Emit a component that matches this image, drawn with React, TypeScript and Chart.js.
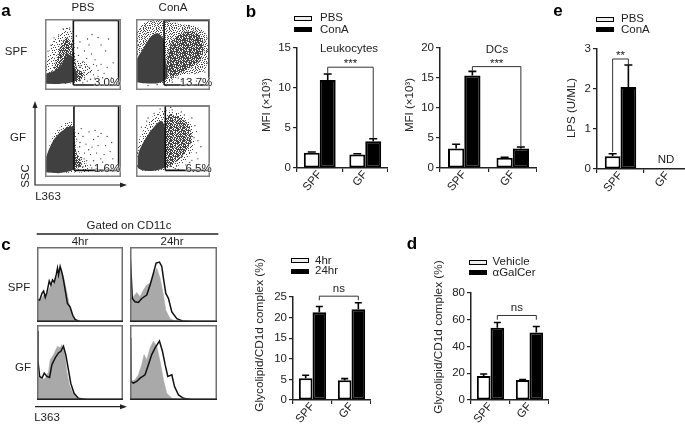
import React, { useEffect, useRef } from "react";
import { Chart, registerables } from "chart.js";

Chart.register(...registerables);

const FONT = '"Liberation Sans", Arial, sans-serif';
const INK = "#222";

/* ---------- bar panels ---------- */
const groups = ["SPF", "GF"];
const leuPBS = [1.9, 1.7];
const leuPBSErr = [2, 1.78];
const leuConA = [11, 3.35];
const leuConAErr = [11.75, 3.65];
const dcPBS = [3.25, 1.7];
const dcPBSErr = [3.95, 1.8];
const dcConA = [15.4, 3.25];
const dcConAErr = [16.1, 3.5];
const lpsPBS = [0.32, 0];
const lpsPBSErr = [0.38, 0];
const lpsConA = [2.05, 0];
const lpsConAErr = [2.6, 0];
const cd1d4hr = [5.3, 4.8];
const cd1d4hrErr = [6, 5.2];
const cd1d24hr = [21.3, 22];
const cd1d24hrErr = [22.7, 23.6];
const galVehicle = [18, 15];
const galVehicleErr = [19.4, 15.3];
const galAgonist = [54, 50.5];
const galAgonistErr = [58, 55];

/* ---------- flow panels (L363, SSC channel readings) ---------- */
type P = [number, number];
const spfPbsHalo: P[] = [[1,23],[1,49],[11,116],[26,161],[51,191],[71,213],[91,196],[98,151],[104,101],[136,91],[158,66],[138,46],[106,26],[36,19]];
const spfPbsMid: P[] = [[30,70],[45,130],[68,175],[88,160],[98,110],[108,70],[130,55],[110,30],[60,30]];
const spfPbsCore: P[] = [[1,21],[1,52],[26,62],[51,80],[62,100],[78,118],[93,110],[97,78],[108,50],[96,28],[36,20]];
const spfPbsDots: P[] = [[156,186],[176,176],[146,151],[116,161],[131,131],[111,116],[166,101],[186,86],[201,131],[211,171],[226,91],[221,41],[196,56],[176,46],[161,51],[146,76],[126,96],[116,81],[138,106],[154,121],[108,141],[104,181],[186,151],[141,171],[171,81],[206,76],[191,41],[151,36],[131,36],[116,31],[176,66],[161,86],[150,60],[165,40],[140,30],[125,24],[60,205],[45,185],[20,150],[10,130],[30,175],[82,208]];
const spfConAHalo: P[] = [[1,26],[1,186],[23,221],[53,233],[93,233],[143,221],[203,211],[235,181],[238,101],[222,62],[150,50],[103,23]];
const spfConAMid: P[] = [[98,70],[113,150],[150,190],[195,195],[222,165],[215,105],[165,66],[118,40]];
const spfConACore: P[] = [[3,26],[3,100],[25,140],[50,180],[72,190],[93,165],[98,105],[103,41],[73,23],[23,23]];
const spfConADots: P[] = [[15,205],[30,215],[60,228],[80,226],[110,230],[130,224],[160,205],[190,205],[215,195],[228,165],[233,130],[235,90],[228,60],[215,40],[200,30],[225,25],[180,35],[150,30],[120,26],[100,15],[70,18],[40,15],[8,150],[175,212],[205,175],[140,40],[195,55],[230,120],[50,230],[100,228]];
const gfPbsHalo: P[] = [[2,16],[2,54],[26,134],[61,174],[86,184],[98,164],[111,84],[138,44],[151,19],[76,14]];
const gfPbsMid: P[] = [[60,155],[85,172],[97,150],[103,85],[122,42],[102,24]];
const gfPbsCore: P[] = [[2,16],[2,58],[26,118],[56,152],[91,166],[97,104],[96,27],[46,12]];
const gfPbsDots: P[] = [[111,144],[126,134],[146,149],[166,154],[186,144],[206,134],[116,114],[136,109],[161,124],[176,104],[201,104],[221,114],[111,84],[131,79],[151,74],[171,79],[196,74],[216,84],[176,134],[156,99],[138,54],[121,64],[161,54],[191,49],[211,39],[111,39],[126,34],[151,39],[115,100],[130,60],[145,90],[185,60],[225,60],[105,125],[120,160],[155,30],[170,28]];
const gfConAHalo: P[] = [[2,34],[4,104],[24,154],[54,199],[94,219],[134,214],[179,184],[194,114],[174,64],[134,34],[94,22],[24,19]];
const gfConAMid: P[] = [[96,190],[110,205],[140,200],[174,170],[184,120],[150,66],[110,34],[90,30]];
const gfConACore: P[] = [[6,30],[8,78],[32,128],[58,164],[84,186],[97,158],[99,74],[94,32],[54,20],[19,22]];
const gfConADots: P[] = [[35,185],[60,210],[80,225],[120,222],[150,215],[185,195],[200,150],[205,120],[200,80],[185,55],[165,40],[140,25],[170,20],[205,60],[18,165],[215,100],[195,170],[115,230],[160,205],[192,130],[40,195],[130,28],[178,48]];

/* stipple tiles for the dense dot clouds */
const sparseTile = [
  "x....x......x",
  "..x......x...",
  ".......x.....",
  "...x.x.....x.",
  "x.........x..",
  "....x...x....",
  ".x.....x....x",
  "......x...x..",
  "..x.x........",
  "x.......x..x.",
  "....x.x......",
  ".x.........x.",
  ".....x.x.....",
];
const mediumTile = [
  "x..x.x..x..x.",
  ".x.....x...x.",
  "..x.x....x..x",
  "x.....x.x..x.",
  "..xx.x....x..",
  ".x.....xx...x",
  "x..x.x.....x.",
  "..x....x.x...",
  ".x..x.x...x.x",
  "x......x.x...",
  "..x.xx....x.x",
  "x......x.x...",
  ".x.x.x.....x.",
];
const denseTile = [
  "xx.xx.x.xx.x.",
  "x.x..xxx.x.xx",
  ".xx.x.x.x.xx.",
  "x.xxx.xx..x.x",
  "xx..x.x.xxx.x",
  ".x.xx..xx.x.x",
  "x.x.x.xx.x.xx",
  "xx.x.x..xxx.x",
  ".xx.xx.x.x.x.",
  "x.x..xxx.xx.x",
  "xx.xx.x.x.x.x",
  ".x.x.xx.xx.xx",
  "x.xx.x.x.xx.x",
];

/* ---------- histogram panels (L363, counts) ---------- */
const h4SpfLine: P[] = [[0,67],[8,65],[15,85],[20,92],[25,73],[30,88],[37,122],[42,110],[47,125],[52,118],[58,140],[62,160],[65,140],[70,165],[76,145],[80,125],[86,90],[92,55],[100,45],[108,20],[115,8],[130,1],[259,1]];
const h4SpfFill: P[] = [[0,62],[10,65],[20,80],[30,85],[40,105],[50,115],[60,135],[70,155],[80,135],[90,90],[98,50],[108,20],[118,5],[130,1],[259,0]];
const h24SpfLine: P[] = [[0,210],[3,150],[7,70],[15,60],[25,58],[35,70],[50,80],[60,110],[70,145],[78,175],[88,178],[95,165],[100,130],[107,85],[115,70],[125,30],[140,10],[160,2],[190,1],[260,1]];
const h24SpfFill: P[] = [[0,70],[10,75],[20,88],[30,75],[40,95],[50,110],[60,115],[70,140],[80,160],[90,130],[100,80],[107,35],[120,10],[135,3],[150,0],[260,0]];
const h4GfLine: P[] = [[0,205],[3,115],[8,70],[15,65],[22,80],[30,70],[38,67],[45,105],[55,125],[65,140],[72,145],[80,160],[87,135],[95,90],[102,50],[112,20],[125,5],[150,1],[259,1]];
const h4GfFill: P[] = [[0,75],[15,60],[25,65],[35,85],[40,120],[50,135],[62,160],[70,155],[75,165],[83,145],[90,85],[98,45],[108,20],[120,5],[135,1],[259,0]];
const h24GfLine: P[] = [[2,185],[3,55],[10,50],[20,55],[30,65],[45,75],[55,105],[65,135],[75,155],[88,175],[97,145],[105,105],[113,70],[125,75],[133,40],[145,15],[160,5],[185,1],[260,1]];
const h24GfFill: P[] = [[2,55],[15,60],[25,75],[35,105],[42,135],[50,120],[60,155],[70,175],[80,160],[90,115],[100,60],[110,20],[125,5],[145,1],[260,0]];

/* ---------- helpers ---------- */
function stipple(rows: string[], color: string) {
  const c = document.createElement("canvas");
  c.width = rows[0].length;
  c.height = rows.length;
  const g = c.getContext("2d")!;
  g.fillStyle = color;
  rows.forEach((row, y) =>
    row.split("").forEach((cell, x) => {
      if (cell === "x") g.fillRect(x, y, 1, 1);
    })
  );
  return g.createPattern(c, "repeat")!;
}

function Panel({ left, top, width, height, config, blur }: any) {
  const ref = useRef<HTMLCanvasElement>(null);
  useEffect(() => {
    const chart = new Chart(ref.current!, config());
    return () => chart.destroy();
  }, []);
  return (
    <canvas
      ref={ref}
      width={width}
      height={height}
      style={{ position: "absolute", left, top, width, height, filter: blur ? `blur(${blur}px)` : undefined }}
    />
  );
}

function framePlugin(color: string, bottom?: string) {
  return {
    id: "frame",
    afterDatasetsDraw(chart: any) {
      const { ctx, chartArea: a } = chart;
      ctx.save();
      ctx.strokeStyle = color;
      ctx.lineWidth = 1.5;
      ctx.strokeRect(a.left + 0.75, a.top + 0.75, a.width - 1.5, a.height - 1.5);
      if (bottom) {
        ctx.strokeStyle = bottom;
        ctx.beginPath();
        ctx.moveTo(a.left, a.bottom - 0.75);
        ctx.lineTo(a.right, a.bottom - 0.75);
        ctx.stroke();
      }
      ctx.restore();
    },
  };
}

const hiddenScale = (max: number) => ({ type: "linear", min: 0, max, display: false });

function flowConfig(halo: P[], mid: P[], core: P[], dots: P[], gate: number[], xMax: number, haloTile: string[]) {
  const pts = (a: P[]) => a.map(([x, y]) => ({ x, y }));
  const [x0, x1, y0, y1] = gate;
  const shape = (data: P[], fill: any, order: number) => ({
    data: pts(data),
    showLine: true,
    fill: "shape",
    backgroundColor: fill,
    borderColor: "rgba(0,0,0,0)",
    borderWidth: 0,
    pointRadius: 0,
    tension: 0.3,
    order,
  });
  return () => ({
    type: "scatter",
    data: {
      datasets: [
        {
          data: [{ x: x0, y: y0 }, { x: x0, y: y1 }, { x: x1, y: y1 }, { x: x1, y: y0 }, { x: x0, y: y0 }],
          showLine: true,
          borderColor: "#111",
          borderWidth: 1.6,
          pointRadius: 0,
          tension: 0,
          order: 0,
        },
        { data: pts(dots), pointRadius: 0.65, pointBorderWidth: 0, backgroundColor: "#333", order: 1 },
        shape(core, "#404040", 2),
        shape(mid, stipple(denseTile, "#444"), 3),
        shape(halo, stipple(haloTile, "#444"), 4),
      ],
    },
    options: {
      responsive: false,
      animation: false,
      devicePixelRatio: 1,
      layout: { padding: 0 },
      plugins: { legend: { display: false }, tooltip: { enabled: false } },
      scales: { x: hiddenScale(xMax), y: hiddenScale(238) },
    },
    plugins: [framePlugin("#808080")],
  });
}

function histConfig(line: P[], fill: P[]) {
  const pts = (a: P[]) => a.map(([x, y]) => ({ x, y }));
  return () => ({
    type: "line",
    data: {
      datasets: [
        { data: pts(line), borderColor: "#111", borderWidth: 1.5, pointRadius: 0, tension: 0, fill: false, order: 0 },
        { data: pts(fill), borderColor: "#a9a9a9", borderWidth: 0.5, backgroundColor: "#a9a9a9", pointRadius: 0, tension: 0, fill: "origin", order: 1 },
      ],
    },
    options: {
      responsive: false,
      animation: false,
      devicePixelRatio: 1,
      layout: { padding: 0 },
      plugins: { legend: { display: false }, tooltip: { enabled: false } },
      scales: { x: hiddenScale(260), y: hiddenScale(223) },
    },
    plugins: [framePlugin("#707070", "#222")],
  });
}

type Bracket = {
  from: P; // [dataset, group]
  to: P;
  level: number;
  legFrom: number;
  legTo: number;
  mark: string;
  lift: number;
};

function barConfig(spec: {
  names: string[];
  values: number[][];
  errs: number[][];
  yMax: number;
  step: number;
  W: number;
  H: number;
  P: number;
  pct: number;
  cap: number;
  bracket: Bracket;
}) {
  const plugin = {
    id: "marks",
    afterDatasetsDraw(chart: any) {
      const { ctx, scales } = chart;
      const y = scales.y;
      ctx.save();
      ctx.strokeStyle = "#000";
      ctx.lineWidth = 1.6;
      spec.errs.forEach((errs, d) => {
        const meta = chart.getDatasetMeta(d);
        errs.forEach((e, i) => {
          if (!e) return;
          const bar = meta.data[i];
          const py = y.getPixelForValue(e);
          ctx.beginPath();
          ctx.moveTo(bar.x, bar.y);
          ctx.lineTo(bar.x, py);
          ctx.moveTo(bar.x - spec.cap / 2, py);
          ctx.lineTo(bar.x + spec.cap / 2, py);
          ctx.stroke();
        });
      });
      const b = spec.bracket;
      const xa = chart.getDatasetMeta(b.from[0]).data[b.from[1]].x;
      const xb = chart.getDatasetMeta(b.to[0]).data[b.to[1]].x;
      const yl = y.getPixelForValue(b.level);
      ctx.strokeStyle = "#333";
      ctx.lineWidth = 1;
      ctx.beginPath();
      ctx.moveTo(xa, y.getPixelForValue(b.legFrom));
      ctx.lineTo(xa, yl);
      ctx.lineTo(xb, yl);
      ctx.lineTo(xb, y.getPixelForValue(b.legTo));
      ctx.stroke();
      ctx.fillStyle = INK;
      ctx.font = `11.5px ${FONT}`;
      ctx.textAlign = "center";
      ctx.textBaseline = "alphabetic";
      ctx.fillText(b.mark, (xa + xb) / 2, yl - b.lift);
      ctx.restore();
    },
  };
  return () => ({
    type: "bar",
    data: {
      labels: groups,
      datasets: spec.names.map((label, d) => ({
        label,
        data: spec.values[d],
        backgroundColor: d === 0 ? "#fff" : "#000",
        borderColor: "#000",
        borderWidth: 2,
        borderSkipped: false,
        barPercentage: 1,
        categoryPercentage: spec.pct,
      })),
    },
    options: {
      responsive: false,
      animation: false,
      devicePixelRatio: 1,
      layout: { padding: { top: spec.P, left: 0, right: 0, bottom: 0 } },
      plugins: { legend: { display: false }, tooltip: { enabled: false } },
      scales: {
        x: {
          type: "category",
          grid: { drawOnChartArea: false, drawTicks: true, tickLength: 4, color: "#222", lineWidth: 1.2 },
          border: { color: "#222", width: 1.5 },
          ticks: { color: INK, font: { family: FONT, size: 11.5 }, minRotation: 50, maxRotation: 50, padding: -4, autoSkip: false },
          afterFit: (s: any) => { s.height = spec.H; },
        },
        y: {
          type: "linear",
          min: 0,
          max: spec.yMax,
          grid: { drawOnChartArea: false, drawTicks: true, tickLength: 4, color: "#222", lineWidth: 1.2 },
          border: { color: "#222", width: 1.5 },
          ticks: { stepSize: spec.step, color: INK, font: { family: FONT, size: 11.5 }, padding: 2 },
          afterFit: (s: any) => { s.width = spec.W; },
        },
      },
    },
    plugins: [plugin],
  });
}

/* ---------- DOM text ---------- */
function T({ x, y, s, size = 11.5, bold, rot, anchor = "c", halo }: any) {
  return (
    <span
      style={{
        position: "absolute",
        left: x,
        top: y,
        font: `${bold ? "bold " : ""}${size}px ${FONT}`,
        color: bold ? "#000" : INK,
        whiteSpace: "nowrap",
        lineHeight: 1,
        textShadow: halo ? "0 0 2px #fff, 0 0 2px #fff, 0 0 1px #fff" : undefined,
        transform: `translate(${anchor === "c" ? "-50%" : "0"}, -50%)${rot ? ` rotate(${rot}deg)` : ""}`,
      }}
    >
      {s}
    </span>
  );
}

function Legend({ x, y1, y2, tx, a, b }: any) {
  const sw = (y: number, fill: string) => (
    <div
      style={{
        position: "absolute",
        left: x,
        top: y - 2.5,
        width: 18,
        height: 5,
        boxSizing: "border-box",
        background: fill,
        border: "1.5px solid #000",
      }}
    />
  );
  return (
    <>
      {sw(y1, "#eee")}
      {sw(y2, "#000")}
      <T x={tx} y={y1} s={a} anchor="l" />
      <T x={tx} y={y2} s={b} anchor="l" />
    </>
  );
}

const W = 26;
const H = 40;
const PAD = 16;
function BarPanel({ axisX, top, bottom, plotW, ...spec }: any) {
  const cfg = barConfig({ ...spec, W, H, P: PAD });
  return (
    <Panel
      left={axisX - W}
      top={top - PAD}
      width={W + plotW}
      height={PAD + (bottom - top) + H}
      config={cfg}
    />
  );
}

export default function App() {
  return (
    <div style={{ position: "fixed", left: 0, top: 0, width: 685, height: 429, overflow: "hidden", background: "#fff" }}>
      {/* panel a */}
      <Panel blur={0.4} left={41} top={15} width={84} height={79} config={flowConfig(spfPbsHalo, spfPbsMid, spfPbsCore, spfPbsDots, [94, 244, 17, 233], 252, sparseTile)} />
      <Panel blur={0.4} left={132} top={15} width={82} height={79} config={flowConfig(spfConAHalo, spfConAMid, spfConACore, spfConADots, [93, 241, 17, 233], 245, mediumTile)} />
      <Panel blur={0.4} left={41} top={101} width={84} height={80} config={flowConfig(gfPbsHalo, gfPbsMid, gfPbsCore, gfPbsDots, [96, 244, 22, 236], 252, sparseTile)} />
      <Panel blur={0.4} left={132} top={101} width={82} height={80} config={flowConfig(gfConAHalo, gfConAMid, gfConACore, gfConADots, [97, 244, 22, 236], 245, sparseTile)} />

      {/* panel c histograms */}
      <Panel left={37} top={247} width={86} height={75} config={histConfig(h4SpfLine, h4SpfFill)} />
      <Panel left={130} top={247} width={87} height={75} config={histConfig(h24SpfLine, h24SpfFill)} />
      <Panel left={37} top={325} width={86} height={75} config={histConfig(h4GfLine, h4GfFill)} />
      <Panel left={130} top={325} width={87} height={75} config={histConfig(h24GfLine, h24GfFill)} />

      {/* bars */}
      <BarPanel axisX={297} top={48} bottom={168} plotW={91} names={["PBS", "ConA"]} values={[leuPBS, leuConA]} errs={[leuPBSErr, leuConAErr]} yMax={15} step={5} pct={0.7} cap={8}
        bracket={{ from: [1, 0], to: [1, 1], level: 12.6, legFrom: 11.8, legTo: 3.65, mark: "***", lift: 0 }} />
      <BarPanel axisX={440} top={48} bottom={168} plotW={97} names={["PBS", "ConA"]} values={[dcPBS, dcConA]} errs={[dcPBSErr, dcConAErr]} yMax={20} step={5} pct={0.67} cap={8}
        bracket={{ from: [1, 0], to: [1, 1], level: 16.9, legFrom: 16.2, legTo: 3.5, mark: "***", lift: 0 }} />
      <BarPanel axisX={597} top={49} bottom={169} plotW={94} names={["PBS", "ConA"]} values={[lpsPBS, lpsConA]} errs={[lpsPBSErr, lpsConAErr]} yMax={3} step={1} pct={0.67} cap={8}
        bracket={{ from: [0, 0], to: [1, 0], level: 2.75, legFrom: 0.42, legTo: 2.62, mark: "**", lift: 0 }} />
      <BarPanel axisX={293} top={297} bottom={400} plotW={78} names={["4hr", "24hr"]} values={[cd1d4hr, cd1d24hr]} errs={[cd1d4hrErr, cd1d24hrErr]} yMax={25} step={5} pct={0.7} cap={7}
        bracket={{ from: [1, 0], to: [1, 1], level: 25.2, legFrom: 24.2, legTo: 24.2, mark: "ns", lift: 4 }} />
      <BarPanel axisX={471} top={293} bottom={400} plotW={78} names={["Vehicle", "αGalCer"]} values={[galVehicle, galAgonist]} errs={[galVehicleErr, galAgonistErr]} yMax={80} step={20} pct={0.7} cap={7}
        bracket={{ from: [1, 0], to: [1, 1], level: 63.2, legFrom: 60, legTo: 60, mark: "ns", lift: 4 }} />

      {/* arrows and rules */}
      <svg width={685} height={429} style={{ position: "absolute", left: 0, top: 0, pointerEvents: "none" }}>
        <g stroke="#222" strokeWidth={1.2} fill="none">
          <path d="M35 104V185H124" />
          <path d="M35 406.7H124" />
        </g>
        <g fill="#222">
          <path d="M35 101L32.5 108H37.5Z" />
          <path d="M127 185L120 182.5V187.5Z" />
          <path d="M127 406.7L120 404.2V409.2Z" />
        </g>
        <path d="M36.7 234H218.3" stroke="#222" strokeWidth={1.4} />
      </svg>

      {/* panel letters */}
      <T x={6} y={10} s="a" size={17} bold />
      <T x={251} y={11} s="b" size={17} bold />
      <T x={6} y={244} s="c" size={17} bold />
      <T x={412} y={243} s="d" size={17} bold />
      <T x={558} y={10} s="e" size={17} bold />

      {/* panel a text */}
      <T x={83} y={7.5} s="PBS" />
      <T x={173} y={7.5} s="ConA" />
      <T x={16} y={51.5} s="SPF" />
      <T x={18} y={137.5} s="GF" />
      <T x={26} y={175.5} s="SSC" rot={-90} />
      <T x={48} y={196.5} s="L363" />
      <T x={107} y={82.5} s="3.0%" halo />
      <T x={196} y={82.5} s="13.7%" halo />
      <T x={107} y={168.5} s="1.6%" halo />
      <T x={198.5} y={168.5} s="6.5%" halo />

      {/* panel b text */}
      <Legend x={294} y1={18} y2={29.5} tx={320} a="PBS" b="ConA" />
      <T x={349} y={48.5} s="Leukocytes" />
      <T x={497} y={49.5} s="DCs" />
      <T x={267} y={105} s="MFI (×10³)" rot={-90} />
      <T x={410} y={105} s="MFI (×10³)" rot={-90} />

      {/* panel e text */}
      <Legend x={596} y1={19} y2={29.5} tx={621} a="PBS" b="ConA" />
      <T x={572} y={108} s="LPS (U/ML)" rot={-90} />
      <T x={666} y={160} s="ND" />

      {/* panel c text */}
      <T x={129} y={226} s="Gated on CD11c" />
      <T x={80} y={242} s="4hr" />
      <T x={172} y={241.5} s="24hr" />
      <T x={19} y={287.5} s="SPF" />
      <T x={23} y={367.5} s="GF" />
      <T x={47} y={418} s="L363" />
      <Legend x={290.5} y1={260.5} y2={271} tx={315} a="4hr" b="24hr" />
      <T x={259.5} y={335} size={11.8} s="Glycolipid/CD1d complex (%)" rot={-90} />

      {/* panel d text */}
      <Legend x={469} y1={262} y2={272.5} tx={492.5} a="Vehicle" b="αGalCer" />
      <T x={439} y={336.5} size={11.8} s="Glycolipid/CD1d complex (%)" rot={-90} />
    </div>
  );
}
